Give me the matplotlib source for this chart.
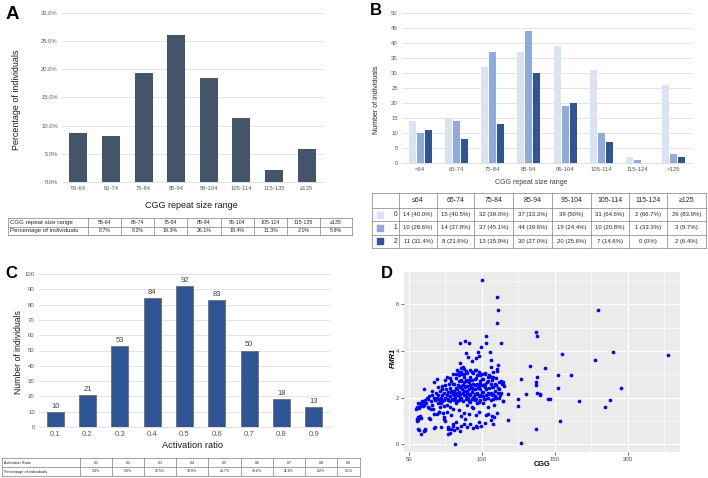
import matplotlib
matplotlib.use("Agg")
import matplotlib.pyplot as plt
from matplotlib.patches import Rectangle
from matplotlib.ticker import MultipleLocator, FixedLocator

plt.rcParams['font.family'] = ['Liberation Sans', 'DejaVu Sans']

W, H = 708, 478

# ---- panel A: CGG repeat size distribution
a_ranges = ["55-64", "65-74", "75-84", "85-94", "95-104", "105-114", "115-135", "\u2265135"]
a_pct = [8.7, 8.2, 19.3, 26.1, 18.4, 11.3, 2.1, 5.9]
a_pct_text = ["8.7%", "8.2%", "19.3%", "26.1%", "18.4%", "11.3%", "2.1%", "5.9%"]

# ---- panel B: activation groups by CGG range
b_ranges_axis = ["<64", "65-74", "75-84", "85-94", "95-104", "105-114", "115-124", ">125"]
b_ranges_table = ["\u226464", "65-74", "75-84", "85-94", "95-104", "105-114", "115-124", "\u2265125"]
b_groups = ["0", "1", "2"]
b_count0 = [14, 15, 32, 37, 39, 31, 2, 26]
b_count1 = [10, 14, 37, 44, 19, 10, 1, 3]
b_count2 = [11, 8, 13, 30, 20, 7, 0, 2]
b_pct0 = ["40.0%", "40.5%", "39.0%", "33.3%", "50%", "64.6%", "66.7%", "83.9%"]
b_pct1 = ["28.6%", "37.8%", "45.1%", "39.6%", "24.4%", "20.8%", "33.3%", "9.7%"]
b_pct2 = ["31.4%", "21.6%", "15.9%", "27.0%", "25.6%", "14.6%", "0%", "6.4%"]
b_colors = ["#DAE3F3", "#8FAADC", "#2F5597"]

# ---- panel C: activation ratio
c_ratio = ["0.1", "0.2", "0.3", "0.4", "0.5", "0.6", "0.7", "0.8", "0.9"]
c_count = [10, 21, 53, 84, 92, 83, 50, 18, 13]
c_pct_text = ["2.4%", "5.0%", "12.5%", "19.8%", "21.7%", "19.6%", "11.8%", "4.2%", "3.1%"]

# ---- panel D: FMR1 vs CGG
d_cgg = [
    55.5, 56, 55, 55.3, 56, 57, 57.5, 58, 57, 56.5, 59, 60, 60, 61, 60.5, 61, 58.5, 59.5, 60, 55.7, 57.6, 56.4, 55.3, 58,
    62, 63, 63, 64, 64.5, 65, 65, 66, 66, 66.5, 67, 67, 67.5, 68, 68, 68.5, 69, 69, 69.5, 70, 70, 62.5, 64, 65.5, 67, 69, 70.5, 60.8, 63.8,
    71, 71, 71.5, 72, 72, 72.5, 73, 73, 73.5, 74, 74, 74.5, 75, 75, 75.5, 76, 76, 76.5, 77, 77, 77.5, 78, 78, 78.5, 78.5, 79, 79, 79.5,
    80, 80, 80, 77, 79, 80, 81, 81.4, 74, 76, 78, 80, 70.6, 74.1, 77.0,
    80.5, 81, 81, 81.5, 82, 82, 82.5, 83, 83, 83.5, 84, 84, 84.5, 85, 85.1, 85, 85, 85.5, 85.5, 86, 86, 86.5, 86.5, 87, 87, 87.5, 87.8,
    88, 88, 88.3, 88.5, 88.5, 89, 89, 89.2, 89.5, 90, 90, 90, 90, 82, 84, 86, 88, 83, 87, 89, 81, 84, 86,
    90.5, 90.8, 91, 91, 91.3, 91.5, 92, 92, 92, 92.5, 93, 93, 93.5, 93.5, 94, 94, 94, 94.5, 95, 95, 95.5, 95.8, 96, 96, 96.5, 97, 97,
    97.4, 97.5, 98, 98, 98.1, 98.5, 99, 99, 99.3, 99.5, 100, 100, 100, 100.2, 96, 98, 91, 93, 97, 95, 91, 99,
    100.5, 101, 101, 101.5, 102, 102, 102.5, 102.7, 102.9, 103, 103, 103.5, 104, 104, 104.5, 105, 105, 105.7, 106, 106, 106.4, 106.6,
    107, 107, 107.3, 107.5, 108, 108, 108, 108.4, 108.5, 109, 109, 109.5, 110, 110, 110.3, 110.3, 110.3, 110.3, 110.3, 111, 111, 111.2,
    111.5, 112, 112.2, 113, 113.3, 114, 114.2, 114.5, 114.8, 115, 104, 106, 102, 101,
    76, 77, 78, 79, 80, 81, 82, 83, 83, 84, 85, 85, 86, 86, 87, 88, 88, 89, 89, 90, 90, 91, 92, 92, 93, 93, 94, 94, 95, 95, 96, 96,
    97, 97, 98, 98, 99, 99, 100, 101, 102, 103, 104, 105, 106, 107, 108, 109, 110, 111, 112, 113, 72, 74, 70, 71, 73, 75, 78, 80, 82,
    84, 86, 88, 90, 92, 94, 96, 98, 100, 102, 104, 106, 108,
    118.3, 114.2, 118.3, 125.1, 124.9, 127.0, 130.0, 133.2, 136.9, 136.9, 138.0, 138.0, 138.0, 140.1, 139.9, 143.1, 145.1, 146.9,
    152.0, 152.0, 153.8, 154.8, 160.9, 166.7, 177.7, 179.8, 184.8, 187.8, 189.9, 195.6, 227.5, 127.0, 136.9, 137.5,
]
d_fmr1 = [
    1.0, 1.05, 1.5, 1.6, 1.78, 1.55, 1.2, 0.45, 0.6, 0.65, 1.85, 2.35, 0.55, 0.6, 1.7, 1.9, 1.75, 1.65, 1.8, 1.54, 1.63, 1.18, 1.07, 1.11,
    1.75, 1.6, 1.95, 1.55, 1.08, 1.5, 1.85, 1.7, 2.1, 1.5, 2.65, 0.7, 2.0, 0.75, 1.9, 2.2, 2.8, 1.3, 1.95, 1.75, 2.45, 2.0, 2.05, 2.3, 1.3, 2.0, 1.4, 0.64, 1.11,
    1.95, 2.3, 1.6, 2.0, 0.72, 1.85, 2.1, 2.5, 1.35, 1.9, 2.2, 2.75, 1.0, 2.0, 2.35, 1.7, 2.9, 1.95, 2.25, 0.75, 2.6, 1.85, 2.05, 0.5, 2.4, 1.25, 2.7, 1.95,
    2.15, 0.8, 3.0, 0.65, 0.65, 0.85, 0.6, 0.03, 1.15, 1.4, 1.6, 1.5, 1.37, 1.08, 0.43,
    2.3, 1.9, 2.6, 2.0, 2.4, 1.75, 2.85, 2.1, 0.7, 2.55, 1.9, 3.1, 2.25, 3.5, 4.33, 1.95, 0.55, 2.7, 3.26, 2.0, 1.2, 2.35, 3.0, 2.55, 1.85, 2.9, 3.21,
    2.1, 0.85, 4.44, 2.45, 1.1, 1.95, 2.75, 3.9, 2.2, 3.05, 2.5, 1.7, 0.75, 0.95, 1.45, 0.8, 1.35, 3.2, 3.3, 3.15, 2.3, 2.7, 2.5,
    2.0, 3.73, 2.35, 1.85, 4.33, 2.65, 2.1, 2.9, 0.85, 2.45, 1.95, 3.1, 3.58, 2.25, 2.6, 1.55, 0.7, 2.05, 2.8, 2.35, 1.9, 3.7, 2.55, 1.25, 2.15, 2.95, 1.75,
    3.97, 2.4, 2.05, 0.95, 3.79, 2.7, 1.9, 2.35, 4.18, 0.8, 2.55, 2.05, 3.0, 7.03, 0.8, 1.4, 1.3, 1.6, 0.75, 3.2, 2.75, 2.95,
    1.75, 2.25, 2.8, 1.95, 2.45, 0.9, 3.0, 4.33, 4.64, 2.1, 1.25, 2.65, 2.0, 2.9, 1.6, 2.4, 2.95, 3.97, 2.2, 1.9, 3.63, 3.33,
    2.75, 2.45, 1.21, 1.95, 2.9, 2.15, 0.87, 1.17, 1.7, 2.6, 2.3, 2.0, 2.85, 1.97, 1.34, 3.23, 3.14, 5.19, 6.31, 3.4, 2.4, 5.74,
    2.0, 2.65, 2.1, 2.2, 4.36, 2.57, 1.84, 2.67, 2.57, 2.5, 1.3, 1.05, 1.95, 2.55,
    2.1, 1.9, 2.25, 2.3, 1.95, 2.1, 2.2, 2.35, 1.85, 2.05, 2.15, 2.45, 1.95, 2.75, 2.2, 2.3, 2.65, 2.05, 2.5, 2.3, 1.95, 2.15, 2.55, 1.8,
    2.4, 2.75, 2.0, 2.35, 2.15, 2.55, 1.95, 2.85, 2.2, 2.6, 2.5, 1.8, 2.1, 2.6, 2.25, 2.05, 2.6, 2.35, 2.2, 2.15, 2.6, 2.1, 2.45, 2.05,
    2.55, 2.2, 2.35, 2.7, 1.75, 1.65, 2.1, 1.85, 2.35, 2.55, 2.85, 2.6, 3.0, 2.95, 3.1, 3.0, 2.7, 3.2, 3.05, 3.2, 3.1, 2.8, 3.05,
    2.7, 2.9, 3.1,
    2.17, 1.84, 1.05, 1.64, 1.94, 2.81, 2.14, 3.37, 2.67, 0.66, 2.87, 4.63, 2.2, 2.17, 2.10, 3.26, 1.95, 1.95,
    2.97, 2.41, 0.99, 3.86, 2.96, 1.87, 3.61, 5.74, 1.61, 1.90, 3.97, 2.41, 3.83, 0.07, 4.83, 2.55,
]

fig = plt.figure(figsize=(W / 100, H / 100), dpi=100)


def add_ax(l, t, r, b):
    return fig.add_axes([l / W, 1 - b / H, (r - l) / W, (b - t) / H])


def excel_style(ax, ymax, step, fmt, fs):
    ax.set_ylim(0, ymax)
    ax.yaxis.set_major_locator(MultipleLocator(step))
    ax.yaxis.set_major_formatter(fmt)
    ax.grid(axis='y', color='#D9D9D9', lw=0.5)
    ax.set_axisbelow(True)
    for s in ['top', 'right', 'left']:
        ax.spines[s].set_visible(False)
    ax.spines['bottom'].set_color('#D9D9D9')
    ax.spines['bottom'].set_linewidth(0.6)
    ax.tick_params(length=0, labelsize=fs, colors='#595959', pad=3)


# panel A
axA = add_ax(62, 13, 323, 182)
xa = range(len(a_ranges))
axA.bar(xa, a_pct, width=0.55, color='#44546A')
excel_style(axA, 30, 5, lambda v, p: f"{v:.1f}%", 4.2)
axA.set_xlim(-0.5, len(a_ranges) - 0.5)
axA.set_xticks(list(xa))
axA.set_xticklabels(a_ranges)

# panel B
axB = add_ax(402, 13, 692, 163)
xb = list(range(len(b_ranges_axis)))
for k, vals in enumerate([b_count0, b_count1, b_count2]):
    axB.bar([x + (k - 1) * 0.22 for x in xb], vals, width=0.19, color=b_colors[k])
excel_style(axB, 50, 5, lambda v, p: f"{v:.0f}", 4.3)
axB.set_xlim(-0.5, len(xb) - 0.5)
axB.set_xticks(xb)
axB.set_xticklabels(b_ranges_axis)

# panel C
axC = add_ax(39, 274, 330, 427)
xc = list(range(len(c_ratio)))
barsC = axC.bar(xc, c_count, width=0.53, color='#2F5597', edgecolor='#6E6E6E', linewidth=0.6)
excel_style(axC, 100, 10, lambda v, p: f"{v:.0f}", 4.3)
axC.set_xlim(-0.5, len(xc) - 0.5)
axC.set_xticks(xc)
axC.set_xticklabels(c_ratio, fontsize=5.6)
axC.bar_label(barsC, labels=[str(v) for v in c_count], padding=1.5, fontsize=5.4, color='#404040')

# panel D (ggplot look)
axD = add_ax(404, 272, 680, 452)
axD.set_facecolor('#EBEBEB')
axD.scatter(d_cgg, d_fmr1, s=7, color='#0000FF', linewidths=0, zorder=3)
axD.set_xlim(46.6, 236)
axD.set_ylim(-0.33, 7.38)
axD.xaxis.set_major_locator(FixedLocator([50, 100, 150, 200]))
axD.xaxis.set_minor_locator(FixedLocator([75, 125, 175, 225]))
axD.yaxis.set_major_locator(FixedLocator([0, 2, 4, 6]))
axD.yaxis.set_minor_locator(FixedLocator([1, 3, 5, 7]))
axD.grid(which='major', color='white', lw=0.8)
axD.grid(which='minor', color='white', lw=0.4)
axD.set_axisbelow(True)
for s in axD.spines.values():
    s.set_visible(False)
axD.tick_params(which='major', length=2, width=0.5, color='#333333', labelsize=4.3, labelcolor='#4D4D4D', pad=1.5)
axD.tick_params(which='minor', length=0)

# overlay for labels and tables (pixel coordinates)
ov = fig.add_axes([0, 0, 1, 1])
ov.set_xlim(0, W)
ov.set_ylim(H, 0)
ov.axis('off')

for letter, x, y, fs in [("A", 12.5, 14, 13.5), ("B", 376, 10, 12), ("C", 11.5, 273, 12), ("D", 387, 273, 12)]:
    ov.text(x, y, letter, fontsize=fs, fontweight='heavy', ha='center', va='center')

ov.text(17, 100, "Percentage of individuals", rotation=90, fontsize=6.4, ha='center', va='center', color='#1A1A1A')
ov.text(191, 206, "CGG repeat size range", fontsize=6.5, ha='center', va='center', color='#1A1A1A')
ov.text(377, 100, "Number of individuals", rotation=90, fontsize=5, ha='center', va='center', color='#262626')
ov.text(531, 183, "CGG repeat size range", fontsize=5, ha='center', va='center', color='#404040')
ov.text(19, 352, "Number of individuals", rotation=90, fontsize=6.2, ha='center', va='center', color='#1A1A1A')
ov.text(192, 445, "Activation ratio", fontsize=6.7, ha='center', va='center', color='#1A1A1A')
ov.text(542, 464, "CGG", fontsize=5.3, fontweight='bold', ha='center', va='center')
ov.text(393, 358, "FMR1", fontsize=5.3, fontweight='bold', style='italic', rotation=90, ha='center', va='center')


def draw_table(cols, rows, cells, fs, first_fs=None, lc='#7F7F7F'):
    for x in cols:
        ov.plot([x, x], [rows[0], rows[-1]], color=lc, lw=0.5)
    for y in rows:
        ov.plot([cols[0], cols[-1]], [y, y], color=lc, lw=0.5)
    for i, row in enumerate(cells):
        yc = (rows[i] + rows[i + 1]) / 2
        for j, txt in enumerate(row):
            if j == 0:
                ov.text(cols[0] + 1.5, yc, txt, fontsize=first_fs or fs, ha='left', va='center', color='#262626')
            else:
                ov.text((cols[j] + cols[j + 1]) / 2, yc, txt, fontsize=fs, ha='center', va='center', color='#262626')


# table A
colsA = [8, 88, 121, 154, 187, 221, 254, 287, 320, 352]
draw_table(colsA, [218.3, 226.7, 235],
           [["CGG repeat size range"] + a_ranges, ["Percentage of individuals"] + a_pct_text], 3.8, 4.4)

# table C
colsC = [2, 80, 112, 144, 176, 208, 241, 273, 305, 337, 360]
draw_table(colsC, [458, 467, 476],
           [["Activation Ratio"] + c_ratio, ["Percentage of individuals"] + c_pct_text], 2.6, 2.8)

# table B
colsB = [372, 399, 437, 474, 513, 552, 591, 629, 667, 706]
rowsB = [192.7, 208, 221, 234.5, 248]
for x in colsB:
    ov.plot([x, x], [rowsB[0], rowsB[-1]], color='#7F7F7F', lw=0.5)
for y in rowsB:
    ov.plot([colsB[0], colsB[-1]], [y, y], color='#7F7F7F', lw=0.5)
for j, lab in enumerate(b_ranges_table):
    ov.text((colsB[j + 1] + colsB[j + 2]) / 2, (rowsB[0] + rowsB[1]) / 2, lab,
            fontsize=5, ha='center', va='center', color='#262626')
for i, (counts, pcts) in enumerate([(b_count0, b_pct0), (b_count1, b_pct1), (b_count2, b_pct2)]):
    yc = (rowsB[i + 1] + rowsB[i + 2]) / 2
    ov.add_patch(Rectangle((377, yc - 3), 6, 6, color=b_colors[i]))
    ov.text(397, yc, b_groups[i], fontsize=4.8, ha='right', va='center', color='#262626')
    for j in range(len(counts)):
        ov.text((colsB[j + 1] + colsB[j + 2]) / 2, yc, f"{counts[j]} ({pcts[j]})",
                fontsize=4.3, ha='center', va='center', color='#262626')

fig.savefig("out.png", dpi=100)
